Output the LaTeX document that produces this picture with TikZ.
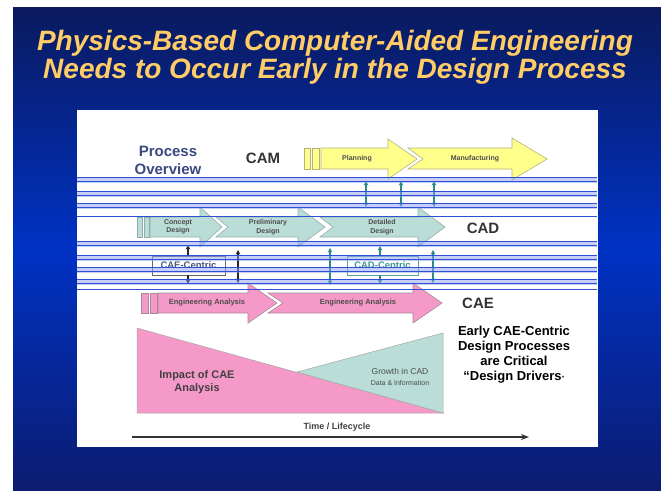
\documentclass[tikz,border=0pt]{standalone}
\usepackage{fontspec}
\setmainfont{Liberation Sans}
\usetikzlibrary{arrows.meta}
\definecolor{bgtop}{HTML}{0A1A5E}
\definecolor{bgmid}{HTML}{0032C4}
\definecolor{bgbot}{HTML}{0C1C70}
\definecolor{titley}{HTML}{FFCC66}
\definecolor{camfill}{HTML}{FFFF8C}
\definecolor{camdraw}{HTML}{B4B478}
\definecolor{cadfill}{HTML}{BADDD8}
\definecolor{caddraw}{HTML}{92AEAC}
\definecolor{caefill}{HTML}{F59AC8}
\definecolor{caedraw}{HTML}{A88898}
\definecolor{tealc}{HTML}{2A8A8C}
\definecolor{povc}{HTML}{3A4A80}
\definecolor{boxtxt}{HTML}{4A5A7A}
\definecolor{bandl}{HTML}{8FA3EE}
\definecolor{bandd}{HTML}{2F4FD8}
\tikzset{
  camshape/.style={fill=camfill, draw=camdraw, line width=0.6pt},
  cadshape/.style={fill=cadfill, draw=caddraw, line width=0.6pt},
  caeshape/.style={fill=caefill, draw=caedraw, line width=0.6pt},
  tinylbl/.style={font=\fontsize{7}{8.5}\selectfont\bfseries, text=black!70, align=center, inner sep=0pt},
  biglbl/.style={font=\fontsize{15}{18}\selectfont\bfseries, inner sep=0pt, align=center},
  dbl/.style={{Stealth[length=4.5pt,width=4.5pt]}-{Stealth[length=4.5pt,width=4.5pt]}, line width=1.2pt},
  sgl/.style={-{Stealth[length=4.5pt,width=4.5pt]}, line width=1.2pt},
  centricbox/.style={draw, line width=0.8pt, minimum height=19pt, inner sep=0pt,
     font=\fontsize{9.5}{10}\selectfont\bfseries},
  bandfill/.style={fill=bandl, fill opacity=0.5},
  bandline/.style={draw=bandd, line width=1pt},
}
\newcommand{\bandgroup}[1]{%
  \fill[bandfill] (77,#1) rectangle (597,#1+6);
  \draw[bandline] (77,#1) -- (597,#1);
  \draw[bandline] (77,#1+4) -- (597,#1+4);
}
\newcommand{\bandsingle}[1]{%
  \draw[bandline] (77,#1) -- (597,#1);
}
\begin{document}
\begin{tikzpicture}[x=1pt,y=-1pt]
\useasboundingbox (0,0) rectangle (661,490);
\fill[white] (0,0) rectangle (661,490);
\shade[top color=bgtop, bottom color=bgbot, middle color=bgmid] (13,7) rectangle (661,490);

% title
\node[font=\fontsize{28}{28}\selectfont\bfseries\itshape, text=titley, align=center, inner sep=0pt]
  (title) at (335,57) {Physics-Based Computer-Aided Engineering\\Needs to Occur Early in the Design Process};

% panel
\fill[white] (77,110) rectangle (598,447);

\node[biglbl, text=povc] (pov) at (168,160) {Process\\Overview};
\node[biglbl, text=black!80] (cam) at (263,158) {CAM};
\node[biglbl, text=black!80] (cad) at (483,228) {CAD};
\node[biglbl, text=black!80] (cae) at (478,303) {CAE};

% CAM row
\draw[camshape] (304,148) rectangle (310,169);
\draw[camshape] (312,148) rectangle (319,169);
\draw[camshape] (321,148) -- (388,148) -- (388,139) -- (417,159) -- (388,179) -- (388,169) -- (321,169) -- cycle;
\draw[camshape] (408,148) -- (512,148) -- (512,138) -- (547,159) -- (512,180) -- (512,169) -- (408,169) -- (423,159) -- cycle;
\node[tinylbl] (plan) at (357,159) {Planning};
\node[tinylbl] (manu) at (475,159) {Manufacturing};

% CAD row
\draw[cadshape] (137,217) rectangle (142,237);
\draw[cadshape] (144,217) rectangle (149,237);
\draw[cadshape] (150,217) -- (200,217) -- (200,207) -- (222,227) -- (200,247) -- (200,237) -- (150,237) -- cycle;
\draw[cadshape] (216,217) -- (298,217) -- (298,207) -- (325,227) -- (298,247) -- (298,237) -- (216,237) -- (228,227) -- cycle;
\draw[cadshape] (320,217) -- (418,217) -- (418,207) -- (445,227) -- (418,247) -- (418,237) -- (320,237) -- (333,227) -- cycle;
\node[tinylbl] (concept) at (178,227) {Concept\\Design};
\node[tinylbl] (prelim) at (268,227) {Preliminary\\Design};
\node[tinylbl] (detail) at (382,227) {Detailed\\Design};

% CAE row
\draw[caeshape] (141,293) rectangle (148,313);
\draw[caeshape] (150,293) rectangle (157,313);
\draw[caeshape] (158,293) -- (248,293) -- (248,283) -- (277,303) -- (248,323) -- (248,313) -- (158,313) -- cycle;
\draw[caeshape] (268,293) -- (413,293) -- (413,283) -- (442,303) -- (413,323) -- (413,313) -- (268,313) -- (283,303) -- cycle;
\node[tinylbl, font=\fontsize{7.5}{9}\selectfont\bfseries] (ea1) at (207,303) {Engineering Analysis};
\node[tinylbl, font=\fontsize{7.5}{9}\selectfont\bfseries] (ea2) at (358,303) {Engineering Analysis};

% triangles
\draw[fill=caefill, draw=black!35, line width=0.5pt] (137,328) -- (443,413) -- (137,413) -- cycle;
\draw[fill=cadfill, draw=black!35, line width=0.5pt] (297,372) -- (443,333) -- (443,413) -- cycle;
\node[font=\fontsize{11}{13}\selectfont\bfseries, text=black!75, align=center, inner sep=0pt] (impact) at (197,382) {Impact of CAE\\Analysis};
\node[align=center, text=black!70, inner sep=0pt] (growth) at (400,377)
  {{\fontsize{8.5}{9}\selectfont Growth in CAD}\\[-1pt]{\fontsize{7}{8}\selectfont Data \& Information}};

% right text
\node[font=\fontsize{13}{15}\selectfont\bfseries, align=center, inner sep=0pt] (early) at (514,355)
  {Early CAE-Centric\\Design Processes\\are Critical\\“Design Drivers{\fontsize{6}{6}\selectfont ”}};

% time axis
\node[font=\fontsize{9}{10}\selectfont\bfseries, text=black!75, inner sep=0pt] (time) at (337,427) {Time / Lifecycle};
\coordinate (t0) at (132,437);
\coordinate (t1) at (529,437);
\draw[-{Stealth[length=8pt,width=6pt]}, black!80, line width=1.4pt] (t0) -- (t1);

% connectors CAM-CAD
\foreach \x/\n in {366/a,401/b,434/c}{
  \coordinate (u\n) at (\x,181);
  \coordinate (d\n) at (\x,207);
  \draw[dbl, tealc] (u\n) -- (d\n);
}

% centric boxes
\node[centricbox, draw=black!60, text=boxtxt, minimum width=73pt] (caec) at (188.5,265.5) {CAE-Centric};
\node[centricbox, draw=tealc!80, text=tealc!90, minimum width=71pt] (cadc) at (382.5,265.5) {CAD-Centric};
\coordinate (caeU) at (188,245);
\coordinate (caeD) at (188,284);
\coordinate (cadU) at (380,246);
\coordinate (cadD) at (380,284);
\draw[sgl, black!85] (caec.north -| caeU) -- (caeU);
\draw[sgl, black!85] (caec.south -| caeD) -- (caeD);
\draw[sgl, tealc] (cadc.north -| cadU) -- (cadU);
\draw[sgl, tealc] (cadc.south -| cadD) -- (cadD);
\coordinate (k1) at (238,250);
\coordinate (k2) at (238,283);
\draw[dbl, black!85] (k1) -- (k2);
\coordinate (m1) at (330,248);
\coordinate (m2) at (330,285);
\draw[dbl, tealc] (m1) -- (m2);
\coordinate (n1) at (433,250);
\coordinate (n2) at (433,283);
\draw[dbl, tealc] (n1) -- (n2);

% blue line bands
\bandgroup{177}
\bandgroup{191}
\bandgroup{203}
\bandsingle{216}
\bandgroup{241}
\bandgroup{255}
\bandgroup{267}
\bandgroup{279}
\bandsingle{289}
\end{tikzpicture}
\end{document}
